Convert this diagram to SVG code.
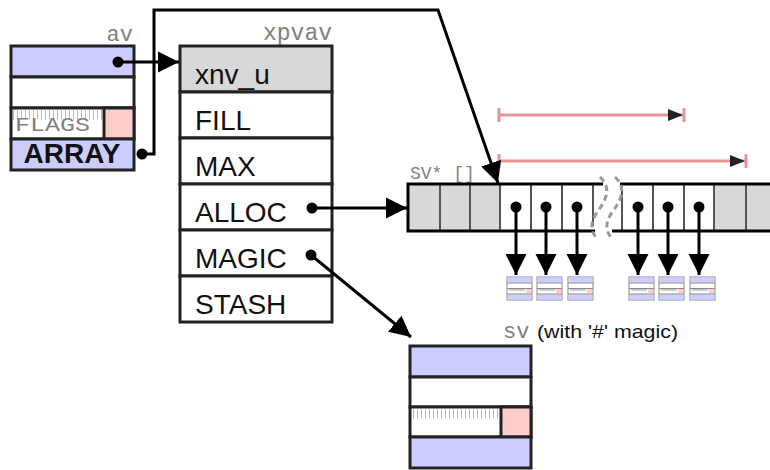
<svg xmlns="http://www.w3.org/2000/svg" width="770" height="470" viewBox="0 0 770 470">
<style>
.box{stroke:#222;stroke-width:3}
.blue{fill:#ccccff}
.pink{fill:#ffcccc}
.gray{fill:#d8d8d8}
.white{fill:#ffffff}
.lbl{font-family:"Liberation Sans",Arial,sans-serif;font-size:28px;fill:#111}
.mono{font-family:"Liberation Mono","Courier New",monospace;fill:#808080}
.conn{stroke:#000;stroke-width:3;fill:none}
.div{stroke:#555;stroke-width:2}
.red{stroke:#e89494;stroke-width:3;fill:none}
.hatch{stroke:#bbb;stroke-width:1}
.dash{stroke:#999;stroke-width:3;fill:none;stroke-dasharray:6 4}
.sm{stroke:#888;stroke-width:1}
</style>
<defs>
<marker id="ah" markerWidth="8" markerHeight="8" refX="7" refY="4" orient="auto" markerUnits="strokeWidth" viewBox="0 0 8 8">
<path d="M0,0.5 L7,4 L0,7.5 z" fill="#000"/>
</marker>
<marker id="rh" markerWidth="5" markerHeight="5" refX="5" refY="2.5" orient="auto" markerUnits="strokeWidth" viewBox="0 0 5 5">
<path d="M0,0.5 L5,2.5 L0,4.5 z" fill="#222"/>
</marker>
<pattern id="ticks" width="4" height="10" patternUnits="userSpaceOnUse">
<line x1="1.5" y1="0" x2="1.5" y2="10" class="hatch"/>
</pattern>
<g id="minisv">
<rect x="0" y="0" width="25" height="23" fill="#fff" class="sm"/>
<rect x="0.5" y="0.5" width="24" height="5" class="blue"/>
<rect x="0.5" y="17.5" width="24" height="5" class="blue"/>
<line x1="0" y1="6" x2="25" y2="6" class="sm"/>
<line x1="0" y1="11.5" x2="25" y2="11.5" class="sm"/>
<line x1="0" y1="17" x2="25" y2="17" class="sm"/>
<rect x="2" y="12" width="16" height="2" fill="#ccc"/>
<rect x="19" y="12" width="5" height="4" class="pink"/>
</g>
</defs>

<g id="av">
<text x="133" y="41" class="mono" font-size="22" text-anchor="end">av</text>
<rect x="11" y="46" width="123" height="31" class="box blue"/>
<rect x="11" y="77" width="123" height="31" class="box white"/>
<rect x="11" y="108" width="123" height="31" class="box white"/>
<rect x="13" y="109.5" width="89" height="10" fill="url(#ticks)"/>
<rect x="104" y="108" width="30" height="31" class="box pink"/>
<text x="15" y="131" class="mono" font-size="20" textLength="75" lengthAdjust="spacingAndGlyphs">FLAGS</text>
<rect x="11" y="139" width="123" height="31" class="box blue"/>
<text x="72" y="163" class="lbl" font-weight="bold" font-size="24" text-anchor="middle" fill="#000">ARRAY</text>
</g>

<g id="xpvav">
<text x="332" y="40" class="mono" font-size="23" text-anchor="end">xpvav</text>
<rect x="180" y="46" width="152" height="46" class="box gray"/>
<rect x="180" y="92" width="152" height="46" class="box white"/>
<rect x="180" y="138" width="152" height="46" class="box white"/>
<rect x="180" y="184" width="152" height="46" class="box white"/>
<rect x="180" y="230" width="152" height="46" class="box white"/>
<rect x="180" y="276" width="152" height="46" class="box white"/>
<text x="195" y="84" class="lbl">xnv_u</text>
<text x="195" y="130" class="lbl">FILL</text>
<text x="195" y="176" class="lbl">MAX</text>
<text x="195" y="222" class="lbl">ALLOC</text>
<text x="195" y="268" class="lbl">MAGIC</text>
<text x="195" y="314" class="lbl">STASH</text>
</g>

<g id="svarray">
<text x="410" y="179" class="mono" font-size="18">SV* []</text>
<rect x="408" y="184" width="92" height="47" class="gray"/>
<rect x="714" y="184" width="60" height="47" class="gray"/>
<line x1="440" y1="184" x2="440" y2="231" class="div"/>
<line x1="470" y1="184" x2="470" y2="231" class="div"/>
<line x1="500" y1="184" x2="500" y2="231" class="div"/>
<line x1="531" y1="184" x2="531" y2="231" class="div"/>
<line x1="562" y1="184" x2="562" y2="231" class="div"/>
<line x1="593" y1="184" x2="593" y2="226" class="div"/>
<line x1="622" y1="186" x2="622" y2="231" class="div"/>
<line x1="653" y1="184" x2="653" y2="231" class="div"/>
<line x1="684" y1="184" x2="684" y2="231" class="div"/>
<line x1="714" y1="184" x2="714" y2="231" class="div"/>
<line x1="746" y1="184" x2="746" y2="231" class="div"/>
<path d="M603,184 H408 V231 H595" class="conn"/>
<path d="M620,184 H772 M612,231 H772" class="conn"/>
<path d="M600,177 C612,188 606,200 598,211 C590,222 590,230 597,239" class="dash"/>
<path d="M615,177 C627,188 621,200 613,211 C605,222 605,230 612,239" class="dash"/>
</g>

<g id="ranges">
<path d="M499,115 H683" class="red" marker-end="url(#rh)"/>
<path d="M499,108 V122 M684,108 V122" class="red"/>
<path d="M499,161 H745" class="red" marker-end="url(#rh)"/>
<path d="M499,154 V168 M746,154 V168" class="red"/>
</g>

<g id="svs">
<use href="#minisv" x="507" y="277"/>
<use href="#minisv" x="537" y="277"/>
<use href="#minisv" x="568" y="277"/>
<use href="#minisv" x="629" y="277"/>
<use href="#minisv" x="659" y="277"/>
<use href="#minisv" x="690" y="277"/>
</g>

<g id="sv">
<text x="503" y="338" class="mono" font-size="22">sv</text>
<text x="537" y="338" font-family="'Liberation Sans',Arial,sans-serif" font-size="19" fill="#111" textLength="141" lengthAdjust="spacingAndGlyphs">(with '#' magic)</text>
<rect x="410" y="346" width="121" height="31" class="box blue"/>
<rect x="410" y="377" width="121" height="30" class="box white"/>
<rect x="410" y="407" width="121" height="30" class="box white"/>
<rect x="412" y="408.5" width="88" height="10" fill="url(#ticks)"/>
<rect x="501" y="407" width="30" height="30" class="box pink"/>
<rect x="410" y="437" width="121" height="31" class="box blue"/>
</g>

<g id="connectors">
<circle cx="118" cy="62" r="5.5" fill="#000"/>
<path d="M118,62 H179" class="conn" marker-end="url(#ah)"/>
<circle cx="142" cy="154" r="5.5" fill="#000"/>
<path d="M142,154 H154 V10 H438 L498,183" class="conn" marker-end="url(#ah)"/>
<circle cx="312" cy="208" r="5.5" fill="#000"/>
<path d="M312,208 H407" class="conn" marker-end="url(#ah)"/>
<circle cx="311" cy="255" r="5.5" fill="#000"/>
<path d="M311,255 L411,337" class="conn" marker-end="url(#ah)"/>
<g>
<circle cx="516" cy="207" r="5.5" fill="#000"/>
<path d="M516,207 V275" class="conn" marker-end="url(#ah)"/>
<circle cx="546" cy="207" r="5.5" fill="#000"/>
<path d="M546,207 V275" class="conn" marker-end="url(#ah)"/>
<circle cx="577" cy="207" r="5.5" fill="#000"/>
<path d="M577,207 V275" class="conn" marker-end="url(#ah)"/>
<circle cx="638" cy="207" r="5.5" fill="#000"/>
<path d="M638,207 V275" class="conn" marker-end="url(#ah)"/>
<circle cx="668" cy="207" r="5.5" fill="#000"/>
<path d="M668,207 V275" class="conn" marker-end="url(#ah)"/>
<circle cx="699" cy="207" r="5.5" fill="#000"/>
<path d="M699,207 V275" class="conn" marker-end="url(#ah)"/>
</g>
</g>
</svg>
